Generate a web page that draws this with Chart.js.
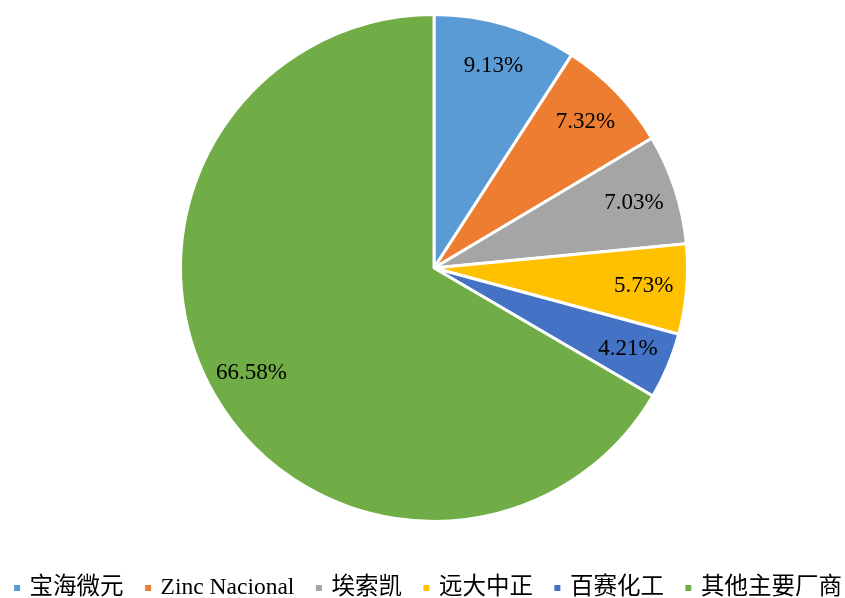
<!DOCTYPE html>
<html>
<head>
<meta charset="utf-8">
<script src="https://cdn.jsdelivr.net/npm/chart.js@4"></script>
<style>
  html, body { margin: 0; padding: 0; background: #fff; }
  #wrap { width: 845px; height: 598px; }
</style>
</head>
<body>
<div id="wrap"><canvas id="pie-chart"></canvas></div>
<script>
var labels = ['宝海微元', 'Zinc Nacional', '埃索凯', '远大中正', '百赛化工', '其他主要厂商'];
var shares = [9.13, 7.32, 7.03, 5.73, 4.21, 66.58];
var colors = ['#5B9BD5', '#ED7D31', '#A5A5A5', '#FFC000', '#4472C4', '#70AD47'];

var fontStack = '"Liberation Serif", "Times New Roman", "Noto Sans CJK SC", serif';

// percent labels inside each slice
var sliceLabels = {
  id: 'sliceLabels',
  afterDatasetsDraw: function(chart) {
    var ctx = chart.ctx;
    var meta = chart.getDatasetMeta(0);
    ctx.save();
    ctx.font = '23px ' + fontStack;
    ctx.fillStyle = '#000';
    ctx.textAlign = 'center';
    ctx.textBaseline = 'middle';
    meta.data.forEach(function(arc, i) {
      var p = arc.getProps(['x', 'y', 'startAngle', 'endAngle', 'outerRadius'], true);
      var a = (p.startAngle + p.endAngle) / 2;
      var r = p.outerRadius * 0.83;
      ctx.fillText(shares[i].toFixed(2) + '%', p.x + Math.cos(a) * r, p.y + Math.sin(a) * r);
    });
    ctx.restore();
  }
};

// one-row legend under the pie (small square markers, like excel)
var rowLegend = {
  id: 'rowLegend',
  afterDraw: function(chart) {
    var ctx = chart.ctx;
    var box = 6, gap = 9.5, spacing = 21.5;
    ctx.save();
    ctx.font = '23.5px ' + fontStack;
    var widths = labels.map(function(t) { return ctx.measureText(t).width; });
    var total = 0;
    widths.forEach(function(w) { total += box + gap + w; });
    total += spacing * (labels.length - 1);
    var x = 428 - total / 2;
    var y = 588;
    ctx.textBaseline = 'middle';
    ctx.textAlign = 'left';
    labels.forEach(function(t, i) {
      ctx.fillStyle = colors[i];
      ctx.fillRect(x, y - box / 2, box, box);
      ctx.fillStyle = '#000';
      ctx.fillText(t, x + box + gap, y);
      x += box + gap + widths[i] + spacing;
    });
    ctx.restore();
  }
};

var ctx = document.getElementById('pie-chart');
var pieChart = new Chart(ctx, {
  type: 'pie',
  data: {
    labels: labels,
    datasets: [{
      data: shares,
      backgroundColor: colors,
      borderColor: '#ffffff',
      borderWidth: 3
    }]
  },
  options: {
    responsive: true,
    maintainAspectRatio: false,
    animation: false,
    layout: { padding: { top: 13, bottom: 75, left: 23, right: 0 } },
    plugins: {
      tooltip: { enabled: false },
      legend: { display: false }
    }
  },
  plugins: [sliceLabels, rowLegend]
});
</script>
</body>
</html>
